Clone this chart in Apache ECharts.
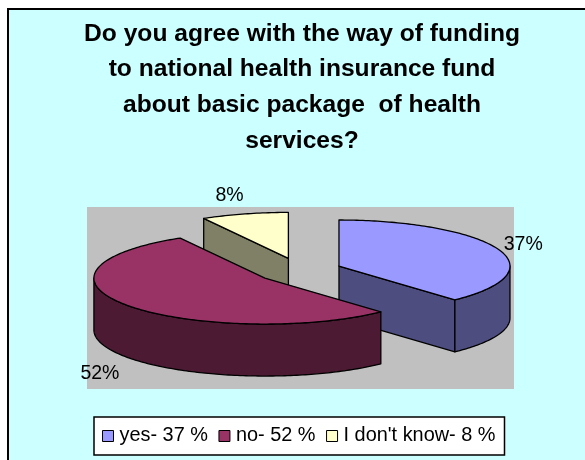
<!DOCTYPE html>
<html><head><meta charset="utf-8">
<style>html,body{margin:0;padding:0;background:#fff}#c{width:585px;height:460px}</style>
<script src="https://cdn.jsdelivr.net/npm/echarts@6/dist/echarts.min.js"></script>
</head><body><div id="c"></div>
<script>
const categories = ["yes- 37 %", "no- 52 %", "I don't know- 8 %"];
const values = [37, 52, 8];
const labels = ["37%", "52%", "8%"];
const topColors = ["#9999FF", "#993366", "#FFFFCC"];
const sideColors = ["#4D4D80", "#4D1A33", "#808066"];
const drawOrder = [2, 0, 1];

const titleText = "Do you agree with the way of funding\nto national health insurance fund\nabout basic package  of health\nservices?";
const pie = {cx: 299.3, cy: 270.6, rx: 171, ry: 46, depth: 52, explodeX: 42.6, explodeY: 12.6};
const labelShift = [[25, -5], [-27, 68], [-15, -18]];

const total = values.reduce((a, b) => a + b, 0);
const toRad = d => d * Math.PI / 180;

function renderSlice(index) {
  return function (params, api) {
    const before = values.slice(0, index).reduce((a, b) => a + b, 0);
    const a0 = before / total * 360;
    const a1 = a0 + api.value(0) / total * 360;
    const mid = (a0 + a1) / 2;
    const cx = pie.cx + pie.explodeX * Math.sin(toRad(mid));
    const cy = pie.cy - pie.explodeY * Math.cos(toRad(mid));
    const pt = (a, dz) => [cx + pie.rx * Math.sin(toRad(a)), cy - pie.ry * Math.cos(toRad(a)) + (dz || 0)];
    const lineStyle = fill => ({fill, stroke: "#000", lineWidth: 1.3, lineJoin: "round"});
    const poly = (points, fill) => ({type: "polygon", shape: {points}, style: lineStyle(fill)});
    const children = [];
    // radial walls, drawn only when they face the viewer
    if (a0 > 180) children.push(poly([[cx, cy], pt(a0), pt(a0, pie.depth), [cx, cy + pie.depth]], sideColors[index]));
    if (a1 < 180 + 1e-6 && a1 > 0) children.push(poly([[cx, cy], pt(a1), pt(a1, pie.depth), [cx, cy + pie.depth]], sideColors[index]));
    // outer rim
    const r0 = Math.max(a0, 90), r1 = Math.min(a1, 270);
    if (r1 > r0) {
      const up = [], down = [];
      for (let a = r0; a < r1; a += 1) { up.push(pt(a)); down.unshift(pt(a, pie.depth)); }
      up.push(pt(r1)); down.unshift(pt(r1, pie.depth));
      children.push(poly(up.concat(down), sideColors[index]));
    }
    // top face
    const face = [[cx, cy]];
    for (let a = a0; a < a1; a += 1) face.push(pt(a));
    face.push(pt(a1));
    children.push(poly(face, topColors[index]));
    // value label
    const anchor = pt(mid);
    children.push({type: "text", style: {
      text: labels[index], x: anchor[0] + labelShift[index][0], y: anchor[1] + labelShift[index][1],
      fill: "#000", font: "19.5px 'Liberation Sans', Arial, sans-serif", align: "center", verticalAlign: "middle"
    }});
    return {type: "group", children};
  };
}

const chart = echarts.init(document.getElementById("c"), null, {renderer: "canvas"});
chart.setOption({
  animation: false,
  backgroundColor: "#fff",
  graphic: [
    {type: "rect", z: -10, shape: {x: 8, y: 9, width: 600, height: 480},
     style: {fill: "#CCFFFF", stroke: "#000", lineWidth: 2}},
    {type: "rect", z: -9, shape: {x: 87, y: 207, width: 427, height: 182},
     style: {fill: "#C0C0C0"}},
    {type: "text", z: 5, style: {
      text: titleText, x: 302, y: 16, align: "center", lineHeight: 35.7, fill: "#000",
      font: "bold 24.6px 'Liberation Sans', Arial, sans-serif"}}
  ],
  legend: {
    left: 94, top: 417, orient: "horizontal",
    data: categories, selectedMode: false, icon: "rect",
    itemWidth: 11, itemHeight: 11, itemGap: 10.5,
    padding: [9, 9, 9, 8],
    backgroundColor: "#fff", borderColor: "#000", borderWidth: 1.5, borderRadius: 0,
    itemStyle: {borderColor: "#000", borderWidth: 1},
    textStyle: {color: "#000", fontSize: 19.9, fontFamily: "'Liberation Sans', Arial, sans-serif", padding: [0, 0, 0, 1]}
  },
  series: drawOrder.map((i, order) => ({
    type: "custom",
    name: categories[i],
    coordinateSystem: "none",
    z: 2 + order,
    silent: true,
    itemStyle: {color: topColors[i]},
    data: [[values[i]]],
    renderItem: renderSlice(i)
  }))
});
</script></body></html>
